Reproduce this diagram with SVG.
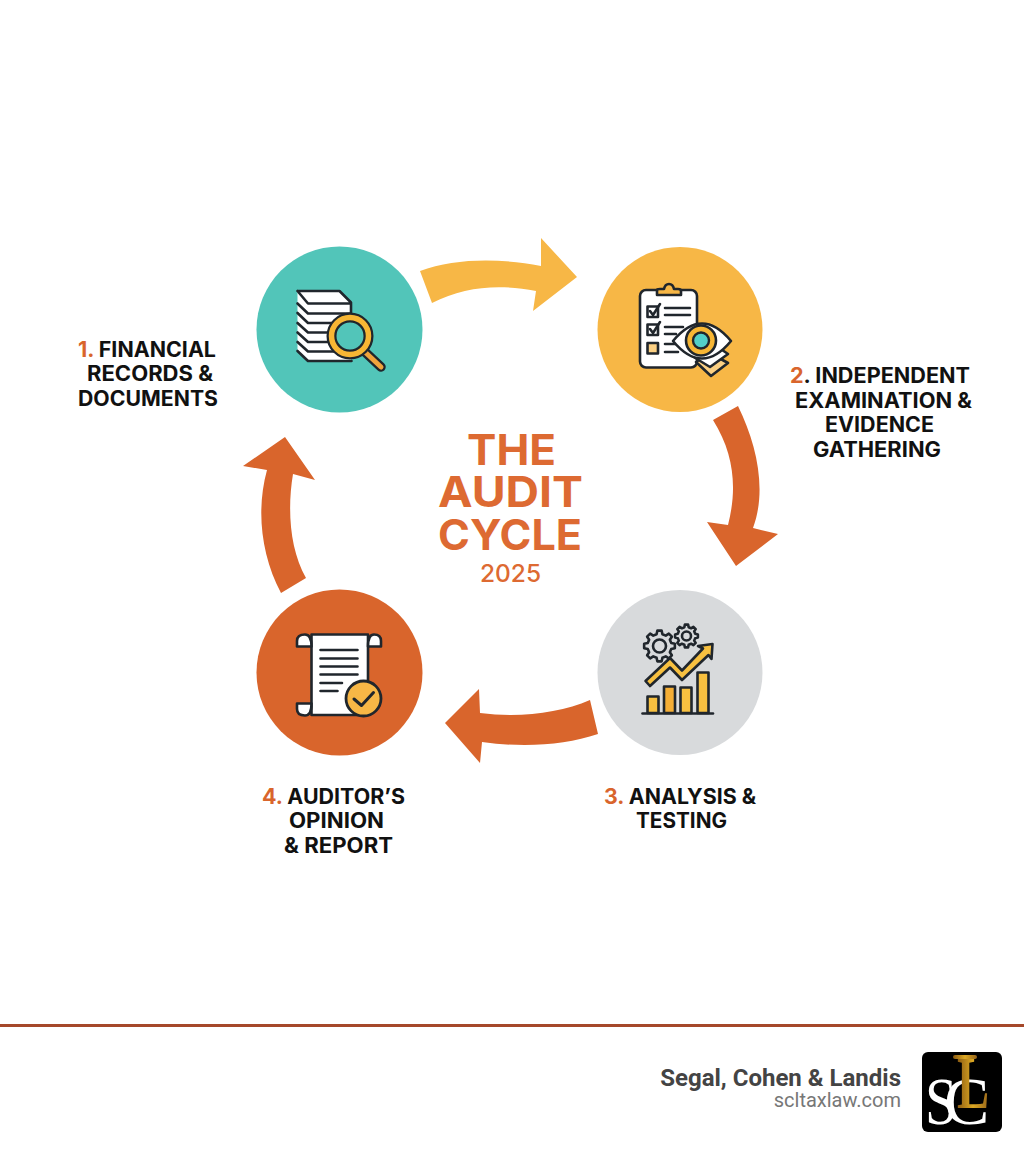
<svg xmlns="http://www.w3.org/2000/svg" width="1024" height="1154" viewBox="0 0 1024 1154">
<defs>
<style>
.ln{fill:none;stroke:#20262c;stroke-width:2.6;stroke-linecap:round;stroke-linejoin:round}
.ic{stroke:#20262c;stroke-width:2.6;stroke-linejoin:round;stroke-linecap:round}
.lb{font-family:Inter,"Liberation Sans",sans-serif;font-weight:700;font-size:21px;fill:#111}
.num{fill:#D9652C}
.tt{font-family:Inter,"Liberation Sans",sans-serif;font-weight:700;font-size:42px;fill:#DD6A32}
</style>
<linearGradient id="gold" x1="0" y1="0" x2="1" y2="0"><stop offset="0" stop-color="#8a5a12"/><stop offset=".5" stop-color="#dca823"/><stop offset="1" stop-color="#96641a"/></linearGradient>
<polygon id="gear" vector-effect="non-scaling-stroke" fill="none" stroke="#20262c" stroke-width="2.6" stroke-linejoin="round" points="75.7,-18.9 99,-13.9 99,13.9 75.7,18.9 66.9,40.2 79.9,60.2 60.2,79.9 40.2,66.9 18.9,75.7 13.9,99 -13.9,99 -18.9,75.7 -40.2,66.9 -60.2,79.9 -79.9,60.2 -66.9,40.2 -75.7,18.9 -99,13.9 -99,-13.9 -75.7,-18.9 -66.9,-40.2 -79.9,-60.2 -60.2,-79.9 -40.2,-66.9 -18.9,-75.7 -13.9,-99 13.9,-99 18.9,-75.7 40.2,-66.9 60.2,-79.9 79.9,-60.2 66.9,-40.2"/>
</defs>
<rect width="1024" height="1154" fill="#fff"/>

<g id="connectors">
<path fill="#F7B746" d="M420,271C455,258 500,258 541,266L541,238L577,277L533,311L536,291C500,284 465,286 432,303Z"/>
<path fill="#D9652C" d="M738,406C757,445 767,490 753,528L778,534L736,566L707,522L728,525C737,490 735,455 713,420Z"/>
<path fill="#D9652C" d="M590,700C560,713 520,718 480,713L479,689L445,723L480,763L482,742C525,748 565,745 598,734Z"/>
<path fill="#D9652C" d="M306,578C290,550 287,510 293,474L315,480L285,437L243,466L267,470C256,510 261,555 281,593Z"/>
</g>

<g id="node-1">
<circle cx="339.500" cy="329.500" r="83" fill="#52C5B9"/>
<path d="M297.500,291H339.500L351,302.500V360.500H308L297.500,351V291Z" fill="#fff" stroke="none"/>
<path class="ln" d="M297.500,291H339.500L351,302.500V313.500H308L297.500,303.500M297.500,291L308,303.500H351M297.500,313L308,323H345M297.500,323L308,332.500H335M297.500,332.500L308,342H335M297.500,342L308,351.500H335M297.500,351L308,361H351.500"/>
<path d="M365,352L381,367" stroke="#20262c" stroke-width="9.500" stroke-linecap="round"/>
<path d="M365,352L381,367" stroke="#F0A33C" stroke-width="5" stroke-linecap="round"/>
<circle cx="350" cy="336" r="18.500" fill="#52C5B9" stroke="#20262c" stroke-width="10"/>
<circle cx="350" cy="336" r="18.500" fill="none" stroke="#F7B634" stroke-width="5.500"/>
</g>

<g id="node-2">
<circle cx="680" cy="329.500" r="82.500" fill="#F7B746"/>
<rect class="ic" x="640" y="290" width="57" height="77.500" rx="6" fill="#fff"/>
<path class="ic" fill="#F7B746" d="M657,295L657,290Q657,289 660,289H664Q665,284 669,284Q673,284 674,289H678Q681,289 681,291V295Z"/>
<rect class="ic" x="647.500" y="306.500" width="10.500" height="10.500" fill="#fff"/>
<rect class="ic" x="647.500" y="324.500" width="10.500" height="10.500" fill="#fff"/>
<rect class="ic" x="647.500" y="343" width="10.500" height="10.500" fill="#FBD083"/>
<path class="ln" d="M650,311L653,315L660,304M650,329L653,333L660,322M665,308H690M665,315H690M665,327H683M665,334H676M665,344H676M665,352H678"/>
<path class="ic" fill="#FBD083" d="M696,362L710,353L728,363L711,376Z"/>
<path class="ic" fill="#fff" d="M692,356L712,343L728,354L710,367Z"/>
<path class="ic" fill="#fff" d="M673,341Q702,306 731,341Q702,376 673,341Z"/>
<circle class="ic" cx="701" cy="340.500" r="15" fill="#F7B634"/>
<circle cx="701" cy="340.500" r="8" fill="#52CFC8" stroke="#20262c" stroke-width="2.400"/>
</g>

<g id="node-3">
<circle cx="680" cy="672.500" r="82.500" fill="#D8DADC"/>
<use href="#gear" transform="translate(659.500,646) scale(.155)"/>
<circle class="ln" cx="659.500" cy="646" r="6.500"/>
<use href="#gear" transform="translate(686.500,636) scale(.115)"/>
<circle class="ln" cx="686.500" cy="636" r="4.500"/>
<rect class="ic" x="647.500" y="696.500" width="11" height="16.500" fill="#F7C040"/>
<rect class="ic" x="664" y="686.500" width="11" height="26.500" fill="#F4AE36"/>
<rect class="ic" x="680.500" y="687.500" width="11" height="25.500" fill="#F7C040"/>
<rect class="ic" x="697.500" y="672.500" width="11" height="40.500" fill="#F7C040"/>
<path class="ln" d="M642.500,713.500H713"/>
<path class="ic" fill="#F7C040" d="M645.500,681L670,658L682,670.500L703,648.500L698,646L712.500,644L711.500,659L708.500,655L682,680L670,667.500L650,686Z"/>
</g>

<g id="node-4">
<circle cx="339.500" cy="672.500" r="83" fill="#D9652C"/>
<path class="ic" fill="#fff" d="M311.500,634.500H368V715H311.500Z"/>
<path class="ic" fill="#fff" d="M311.500,646.500H297V641Q297,634.500 305,634.500Q311.500,634.500 311.500,646.500Z"/>
<path class="ic" fill="#fff" d="M368,646.500H381V641Q381,634.500 374,634.500Q368,634.500 368,646.500Z"/>
<path class="ic" fill="#fff" d="M311.500,703.500H297V709Q297,715.500 305,715.500Q311.500,715.500 311.500,703.500Z"/>
<path class="ln" d="M320.500,650H357.500M320.500,658.500H357.500M320.500,666.500H357.500M320.500,674.500H357.500M320.500,683H342M320.500,691H337.500"/>
<circle cx="363.500" cy="698.500" r="17.500" fill="#F7B746" stroke="#20262c" stroke-width="2.800"/>
<path class="ln" style="stroke-width:3" d="M354,699L361.500,705.500L373.500,692.500"/>
</g>

<g id="label-1" class="lb">
<text x="78" y="357" textLength="138" lengthAdjust="spacingAndGlyphs"><tspan class="num">1.</tspan> FINANCIAL</text>
<text x="87" y="381" textLength="126" lengthAdjust="spacingAndGlyphs">RECORDS &amp;</text>
<text x="78" y="406" textLength="140" lengthAdjust="spacingAndGlyphs">DOCUMENTS</text>
</g>
<g id="label-2" class="lb">
<text x="790" y="383" textLength="180" lengthAdjust="spacingAndGlyphs"><tspan class="num">2</tspan>. INDEPENDENT</text>
<text x="795" y="408" textLength="177" lengthAdjust="spacingAndGlyphs">EXAMINATION &amp;</text>
<text x="825" y="432" textLength="109" lengthAdjust="spacingAndGlyphs">EVIDENCE</text>
<text x="813" y="457" textLength="128" lengthAdjust="spacingAndGlyphs">GATHERING</text>
</g>
<g id="label-3" class="lb">
<text x="604" y="804" textLength="152" lengthAdjust="spacingAndGlyphs"><tspan class="num">3.</tspan> ANALYSIS &amp;</text>
<text x="636" y="828" textLength="91" lengthAdjust="spacingAndGlyphs">TESTING</text>
</g>
<g id="label-4" class="lb">
<text x="262" y="804" textLength="143" lengthAdjust="spacingAndGlyphs"><tspan class="num">4.</tspan> AUDITOR’S</text>
<text x="289" y="828" textLength="95" lengthAdjust="spacingAndGlyphs">OPINION</text>
<text x="284" y="853" textLength="109" lengthAdjust="spacingAndGlyphs">&amp; REPORT</text>
</g>

<g id="title" class="tt">
<text x="467" y="465" textLength="89" lengthAdjust="spacingAndGlyphs">THE</text>
<text x="438" y="507" textLength="145" lengthAdjust="spacingAndGlyphs">AUDIT</text>
<text x="438" y="550" textLength="144" lengthAdjust="spacingAndGlyphs">CYCLE</text>
<text x="480" y="582" textLength="61" lengthAdjust="spacingAndGlyphs" style="font-size:24px;font-weight:500">2025</text>
</g>

<g id="footer">
<rect x="0" y="1024" width="1024" height="3" fill="#A5482A"/>
<text x="901" y="1086" text-anchor="end" font-family="Roboto,'Liberation Sans',sans-serif" font-weight="700" font-size="24" fill="#444">Segal, Cohen &amp; Landis</text>
<text x="901" y="1107" text-anchor="end" font-family="Roboto,'Liberation Sans',sans-serif" font-size="20" fill="#777">scltaxlaw.com</text>
</g>

<g id="logo">
<rect x="922" y="1052" width="80" height="80" rx="6" fill="#000"/>
<rect x="953" y="1055" width="24" height="4" rx="2" fill="url(#gold)"/>
<text transform="translate(925,1124) scale(.85,1)" font-family="'Liberation Serif',serif" font-size="68" fill="#fff">S</text>
<text transform="translate(944,1124)" font-family="'Liberation Serif',serif" font-size="68" fill="#fff">C</text>
<text transform="translate(957,1108) scale(.66,1)" font-family="'Liberation Serif',serif" font-weight="700" font-size="73" fill="url(#gold)">L</text>
</g>
</svg>
